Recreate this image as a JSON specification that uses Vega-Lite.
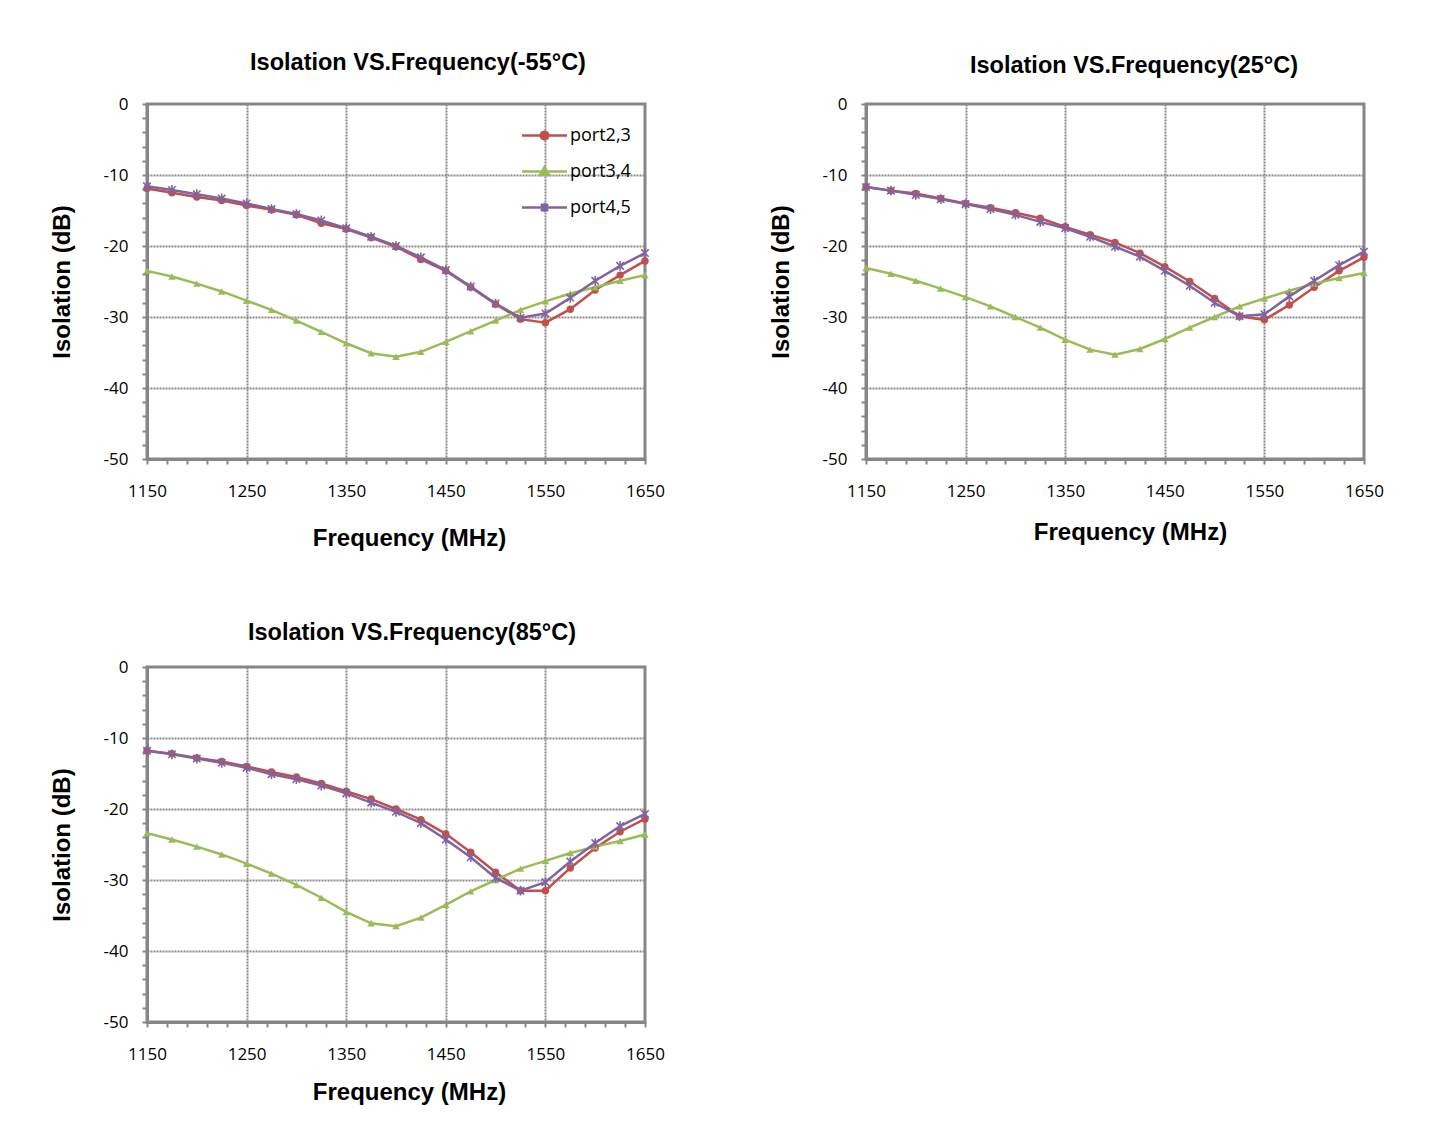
{
  "$schema": "https://vega.github.io/schema/vega-lite/v6.json",
  "background": "white",
  "padding": {"left": 48, "top": 49, "right": 5, "bottom": 5},
  "datasets": {
    "m55": [
      {"series":"port2,3","freq":1150,"db":-11.9},{"series":"port2,3","freq":1175,"db":-12.5},{"series":"port2,3","freq":1200,"db":-13.1},{"series":"port2,3","freq":1225,"db":-13.6},{"series":"port2,3","freq":1250,"db":-14.3},{"series":"port2,3","freq":1275,"db":-14.9},{"series":"port2,3","freq":1300,"db":-15.6},{"series":"port2,3","freq":1325,"db":-16.8},{"series":"port2,3","freq":1350,"db":-17.6},{"series":"port2,3","freq":1375,"db":-18.8},{"series":"port2,3","freq":1400,"db":-20.1},{"series":"port2,3","freq":1425,"db":-21.9},{"series":"port2,3","freq":1450,"db":-23.5},{"series":"port2,3","freq":1475,"db":-25.8},{"series":"port2,3","freq":1500,"db":-28.2},{"series":"port2,3","freq":1525,"db":-30.3},{"series":"port2,3","freq":1550,"db":-30.8},{"series":"port2,3","freq":1575,"db":-28.9},{"series":"port2,3","freq":1600,"db":-26.2},{"series":"port2,3","freq":1625,"db":-24.1},{"series":"port2,3","freq":1650,"db":-22.1},
      {"series":"port3,4","freq":1150,"db":-23.5},{"series":"port3,4","freq":1175,"db":-24.3},{"series":"port3,4","freq":1200,"db":-25.3},{"series":"port3,4","freq":1225,"db":-26.4},{"series":"port3,4","freq":1250,"db":-27.7},{"series":"port3,4","freq":1275,"db":-29.0},{"series":"port3,4","freq":1300,"db":-30.5},{"series":"port3,4","freq":1325,"db":-32.1},{"series":"port3,4","freq":1350,"db":-33.7},{"series":"port3,4","freq":1375,"db":-35.1},{"series":"port3,4","freq":1400,"db":-35.6},{"series":"port3,4","freq":1425,"db":-34.9},{"series":"port3,4","freq":1450,"db":-33.5},{"series":"port3,4","freq":1475,"db":-32.0},{"series":"port3,4","freq":1500,"db":-30.5},{"series":"port3,4","freq":1525,"db":-29.0},{"series":"port3,4","freq":1550,"db":-27.8},{"series":"port3,4","freq":1575,"db":-26.7},{"series":"port3,4","freq":1600,"db":-25.8},{"series":"port3,4","freq":1625,"db":-24.9},{"series":"port3,4","freq":1650,"db":-24.1},
      {"series":"port4,5","freq":1150,"db":-11.6},{"series":"port4,5","freq":1175,"db":-12.1},{"series":"port4,5","freq":1200,"db":-12.7},{"series":"port4,5","freq":1225,"db":-13.3},{"series":"port4,5","freq":1250,"db":-14.0},{"series":"port4,5","freq":1275,"db":-14.8},{"series":"port4,5","freq":1300,"db":-15.5},{"series":"port4,5","freq":1325,"db":-16.4},{"series":"port4,5","freq":1350,"db":-17.5},{"series":"port4,5","freq":1375,"db":-18.7},{"series":"port4,5","freq":1400,"db":-20.0},{"series":"port4,5","freq":1425,"db":-21.6},{"series":"port4,5","freq":1450,"db":-23.4},{"series":"port4,5","freq":1475,"db":-25.7},{"series":"port4,5","freq":1500,"db":-28.1},{"series":"port4,5","freq":1525,"db":-30.1},{"series":"port4,5","freq":1550,"db":-29.5},{"series":"port4,5","freq":1575,"db":-27.3},{"series":"port4,5","freq":1600,"db":-24.9},{"series":"port4,5","freq":1625,"db":-22.8},{"series":"port4,5","freq":1650,"db":-21.0}
    ],
    "p25": [
      {"series":"port2,3","freq":1150,"db":-11.7},{"series":"port2,3","freq":1175,"db":-12.2},{"series":"port2,3","freq":1200,"db":-12.6},{"series":"port2,3","freq":1225,"db":-13.3},{"series":"port2,3","freq":1250,"db":-14.0},{"series":"port2,3","freq":1275,"db":-14.6},{"series":"port2,3","freq":1300,"db":-15.3},{"series":"port2,3","freq":1325,"db":-16.1},{"series":"port2,3","freq":1350,"db":-17.3},{"series":"port2,3","freq":1375,"db":-18.4},{"series":"port2,3","freq":1400,"db":-19.5},{"series":"port2,3","freq":1425,"db":-21.0},{"series":"port2,3","freq":1450,"db":-22.9},{"series":"port2,3","freq":1475,"db":-25.0},{"series":"port2,3","freq":1500,"db":-27.4},{"series":"port2,3","freq":1525,"db":-29.9},{"series":"port2,3","freq":1550,"db":-30.4},{"series":"port2,3","freq":1575,"db":-28.3},{"series":"port2,3","freq":1600,"db":-25.8},{"series":"port2,3","freq":1625,"db":-23.5},{"series":"port2,3","freq":1650,"db":-21.6},
      {"series":"port3,4","freq":1150,"db":-23.1},{"series":"port3,4","freq":1175,"db":-23.9},{"series":"port3,4","freq":1200,"db":-24.9},{"series":"port3,4","freq":1225,"db":-26.0},{"series":"port3,4","freq":1250,"db":-27.2},{"series":"port3,4","freq":1275,"db":-28.5},{"series":"port3,4","freq":1300,"db":-30.0},{"series":"port3,4","freq":1325,"db":-31.5},{"series":"port3,4","freq":1350,"db":-33.2},{"series":"port3,4","freq":1375,"db":-34.6},{"series":"port3,4","freq":1400,"db":-35.3},{"series":"port3,4","freq":1425,"db":-34.5},{"series":"port3,4","freq":1450,"db":-33.1},{"series":"port3,4","freq":1475,"db":-31.5},{"series":"port3,4","freq":1500,"db":-30.0},{"series":"port3,4","freq":1525,"db":-28.5},{"series":"port3,4","freq":1550,"db":-27.4},{"series":"port3,4","freq":1575,"db":-26.3},{"series":"port3,4","freq":1600,"db":-25.3},{"series":"port3,4","freq":1625,"db":-24.5},{"series":"port3,4","freq":1650,"db":-23.8},
      {"series":"port4,5","freq":1150,"db":-11.7},{"series":"port4,5","freq":1175,"db":-12.2},{"series":"port4,5","freq":1200,"db":-12.8},{"series":"port4,5","freq":1225,"db":-13.4},{"series":"port4,5","freq":1250,"db":-14.1},{"series":"port4,5","freq":1275,"db":-14.8},{"series":"port4,5","freq":1300,"db":-15.6},{"series":"port4,5","freq":1325,"db":-16.6},{"series":"port4,5","freq":1350,"db":-17.5},{"series":"port4,5","freq":1375,"db":-18.7},{"series":"port4,5","freq":1400,"db":-20.1},{"series":"port4,5","freq":1425,"db":-21.5},{"series":"port4,5","freq":1450,"db":-23.5},{"series":"port4,5","freq":1475,"db":-25.6},{"series":"port4,5","freq":1500,"db":-28.0},{"series":"port4,5","freq":1525,"db":-29.9},{"series":"port4,5","freq":1550,"db":-29.6},{"series":"port4,5","freq":1575,"db":-27.1},{"series":"port4,5","freq":1600,"db":-24.9},{"series":"port4,5","freq":1625,"db":-22.7},{"series":"port4,5","freq":1650,"db":-20.8}
    ],
    "p85": [
      {"series":"port2,3","freq":1150,"db":-11.8},{"series":"port2,3","freq":1175,"db":-12.2},{"series":"port2,3","freq":1200,"db":-12.8},{"series":"port2,3","freq":1225,"db":-13.3},{"series":"port2,3","freq":1250,"db":-14.0},{"series":"port2,3","freq":1275,"db":-14.8},{"series":"port2,3","freq":1300,"db":-15.5},{"series":"port2,3","freq":1325,"db":-16.4},{"series":"port2,3","freq":1350,"db":-17.5},{"series":"port2,3","freq":1375,"db":-18.6},{"series":"port2,3","freq":1400,"db":-20.0},{"series":"port2,3","freq":1425,"db":-21.5},{"series":"port2,3","freq":1450,"db":-23.5},{"series":"port2,3","freq":1475,"db":-26.1},{"series":"port2,3","freq":1500,"db":-28.9},{"series":"port2,3","freq":1525,"db":-31.5},{"series":"port2,3","freq":1550,"db":-31.5},{"series":"port2,3","freq":1575,"db":-28.3},{"series":"port2,3","freq":1600,"db":-25.5},{"series":"port2,3","freq":1625,"db":-23.2},{"series":"port2,3","freq":1650,"db":-21.4},
      {"series":"port3,4","freq":1150,"db":-23.4},{"series":"port3,4","freq":1175,"db":-24.3},{"series":"port3,4","freq":1200,"db":-25.3},{"series":"port3,4","freq":1225,"db":-26.4},{"series":"port3,4","freq":1250,"db":-27.7},{"series":"port3,4","freq":1275,"db":-29.1},{"series":"port3,4","freq":1300,"db":-30.7},{"series":"port3,4","freq":1325,"db":-32.5},{"series":"port3,4","freq":1350,"db":-34.5},{"series":"port3,4","freq":1375,"db":-36.1},{"series":"port3,4","freq":1400,"db":-36.5},{"series":"port3,4","freq":1425,"db":-35.3},{"series":"port3,4","freq":1450,"db":-33.5},{"series":"port3,4","freq":1475,"db":-31.6},{"series":"port3,4","freq":1500,"db":-30.0},{"series":"port3,4","freq":1525,"db":-28.4},{"series":"port3,4","freq":1550,"db":-27.3},{"series":"port3,4","freq":1575,"db":-26.2},{"series":"port3,4","freq":1600,"db":-25.3},{"series":"port3,4","freq":1625,"db":-24.5},{"series":"port3,4","freq":1650,"db":-23.6},
      {"series":"port4,5","freq":1150,"db":-11.8},{"series":"port4,5","freq":1175,"db":-12.3},{"series":"port4,5","freq":1200,"db":-12.9},{"series":"port4,5","freq":1225,"db":-13.5},{"series":"port4,5","freq":1250,"db":-14.2},{"series":"port4,5","freq":1275,"db":-15.1},{"series":"port4,5","freq":1300,"db":-15.8},{"series":"port4,5","freq":1325,"db":-16.7},{"series":"port4,5","freq":1350,"db":-17.8},{"series":"port4,5","freq":1375,"db":-19.1},{"series":"port4,5","freq":1400,"db":-20.4},{"series":"port4,5","freq":1425,"db":-22.0},{"series":"port4,5","freq":1450,"db":-24.3},{"series":"port4,5","freq":1475,"db":-26.8},{"series":"port4,5","freq":1500,"db":-29.7},{"series":"port4,5","freq":1525,"db":-31.5},{"series":"port4,5","freq":1550,"db":-30.3},{"series":"port4,5","freq":1575,"db":-27.4},{"series":"port4,5","freq":1600,"db":-24.8},{"series":"port4,5","freq":1625,"db":-22.4},{"series":"port4,5","freq":1650,"db":-20.7}
    ]
  },
  "columns": 2,
  "spacing": {"row": 208, "column": 221},
  "bounds": "flush",
  "concat": [
    {
      "width": 498, "height": 355,
      "data": {"name": "m55"},
      "title": {"text": "Isolation VS.Frequency(-55°C)", "dx": 22, "offset": 21},
      "encoding": {
        "x": {"field": "freq", "type": "quantitative", "scale": {"domain": [1150, 1650], "nice": false, "zero": false},
          "axis": {"title": "Frequency (MHz)", "values": [1150,1170,1190,1210,1230,1250,1270,1290,1310,1330,1350,1370,1390,1410,1430,1450,1470,1490,1510,1530,1550,1570,1590,1610,1630,1650],
            "labelExpr": "(datum.value - 1150) % 100 === 0 ? '' + datum.value : ''",
            "gridOpacity": {"condition": {"test": "(datum.value - 1150) % 100 === 0 && datum.value > 1150 && datum.value < 1650", "value": 1}, "value": 0}, "titleX": 262, "titlePadding": 27}},
        "y": {"field": "db", "type": "quantitative", "scale": {"domain": [-50, 0], "nice": false},
          "axis": {"title": "Isolation (dB)", "values": [-50,-48,-46,-44,-42,-40,-38,-36,-34,-32,-30,-28,-26,-24,-22,-20,-18,-16,-14,-12,-10,-8,-6,-4,-2,0],
            "labelExpr": "datum.value % 10 === 0 ? '' + datum.value : ''",
            "gridOpacity": {"condition": {"test": "datum.value % 10 === 0 && datum.value > -50 && datum.value < 0", "value": 1}, "value": 0}}}
      },
      "layer": [
        {"mark": {"type": "line", "strokeWidth": 2.5},
         "encoding": {"color": {"field": "series", "type": "nominal",
           "scale": {"domain": ["port2,3", "port3,4", "port4,5"], "range": ["#C0504D", "#9BBB59", "#8064A2"]},
           "legend": {"title": null, "orient": "none", "legendX": 386, "legendY": 20, "padding": 0, "symbolSize": 400, "symbolStrokeWidth": 2.5, "rowPadding": 15, "labelOffset": 14, "labelFont": "Open Sans", "labelFontSize": 18, "labelColor": "#000",
             "encode": {"symbols": {"update": {
               "shape": {"signal": "datum.value === 'port2,3' ? 'M-2.25,0L2.25,0M-0.4,0L-0.28,-0.28L0,-0.4L0.28,-0.28L0.4,0L0.28,0.28L0,0.4L-0.28,0.28Z' : datum.value === 'port3,4' ? 'M-2.25,0L2.25,0M0,-0.45L0.45,0.35L-0.45,0.35Z' : 'M-2.25,0L2.25,0M-0.35,-0.35L0.35,0.35M-0.35,0.35L0.35,-0.35M0,-0.45L0,0.45'"},
               "fill": {"signal": "datum.value === 'port2,3' ? '#C0504D' : datum.value === 'port3,4' ? '#9BBB59' : '#8064A2'"},
               "stroke": {"signal": "datum.value === 'port2,3' ? '#C0504D' : datum.value === 'port3,4' ? '#9BBB59' : '#8064A2'"},
               "opacity": {"value": 1}, "fillOpacity": {"value": 1}, "strokeWidth": {"value": 2.5}}}}}}}},
        {"transform": [{"filter": "datum.series === 'port2,3'"}], "mark": {"type": "point", "shape": "circle", "filled": true, "size": 55, "color": "#C0504D", "opacity": 1}},
        {"transform": [{"filter": "datum.series === 'port3,4'"}], "mark": {"type": "point", "shape": "triangle-up", "filled": true, "size": 55, "color": "#9BBB59", "opacity": 1}},
        {"transform": [{"filter": "datum.series === 'port4,5'"}], "mark": {"type": "point", "shape": "M-1,-1L1,1M-1,1L1,-1M0,-1.3L0,1.3", "filled": false, "size": 55, "strokeWidth": 1.6, "color": "#8064A2", "opacity": 1}}
      ]
    },
    {
      "width": 498, "height": 355,
      "data": {"name": "p25"},
      "title": {"text": "Isolation VS.Frequency(25°C)", "dx": 19, "offset": 18},
      "encoding": {
        "x": {"field": "freq", "type": "quantitative", "scale": {"domain": [1150, 1650], "nice": false, "zero": false},
          "axis": {"title": "Frequency (MHz)", "values": [1150,1170,1190,1210,1230,1250,1270,1290,1310,1330,1350,1370,1390,1410,1430,1450,1470,1490,1510,1530,1550,1570,1590,1610,1630,1650],
            "labelExpr": "(datum.value - 1150) % 100 === 0 ? '' + datum.value : ''",
            "gridOpacity": {"condition": {"test": "(datum.value - 1150) % 100 === 0 && datum.value > 1150 && datum.value < 1650", "value": 1}, "value": 0}, "titleX": 264, "titlePadding": 21}},
        "y": {"field": "db", "type": "quantitative", "scale": {"domain": [-50, 0], "nice": false},
          "axis": {"title": "Isolation (dB)", "values": [-50,-48,-46,-44,-42,-40,-38,-36,-34,-32,-30,-28,-26,-24,-22,-20,-18,-16,-14,-12,-10,-8,-6,-4,-2,0],
            "labelExpr": "datum.value % 10 === 0 ? '' + datum.value : ''",
            "gridOpacity": {"condition": {"test": "datum.value % 10 === 0 && datum.value > -50 && datum.value < 0", "value": 1}, "value": 0}}}
      },
      "layer": [
        {"mark": {"type": "line", "strokeWidth": 2.5},
         "encoding": {"color": {"field": "series", "type": "nominal",
           "scale": {"domain": ["port2,3", "port3,4", "port4,5"], "range": ["#C0504D", "#9BBB59", "#8064A2"]},
           "legend": {"title": null, "orient": "none", "legendX": 386, "legendY": 20, "padding": 0, "symbolSize": 400, "symbolStrokeWidth": 2.5, "rowPadding": 15, "labelOffset": 14, "labelFont": "Open Sans", "labelFontSize": 18, "labelColor": "#000",
             "encode": {"symbols": {"update": {
               "shape": {"signal": "datum.value === 'port2,3' ? 'M-2.25,0L2.25,0M-0.4,0L-0.28,-0.28L0,-0.4L0.28,-0.28L0.4,0L0.28,0.28L0,0.4L-0.28,0.28Z' : datum.value === 'port3,4' ? 'M-2.25,0L2.25,0M0,-0.45L0.45,0.35L-0.45,0.35Z' : 'M-2.25,0L2.25,0M-0.35,-0.35L0.35,0.35M-0.35,0.35L0.35,-0.35M0,-0.45L0,0.45'"},
               "fill": {"signal": "datum.value === 'port2,3' ? '#C0504D' : datum.value === 'port3,4' ? '#9BBB59' : '#8064A2'"},
               "stroke": {"signal": "datum.value === 'port2,3' ? '#C0504D' : datum.value === 'port3,4' ? '#9BBB59' : '#8064A2'"},
               "opacity": {"value": 1}, "fillOpacity": {"value": 1}, "strokeWidth": {"value": 2.5}}}}}}}},
        {"transform": [{"filter": "datum.series === 'port2,3'"}], "mark": {"type": "point", "shape": "circle", "filled": true, "size": 55, "color": "#C0504D", "opacity": 1}},
        {"transform": [{"filter": "datum.series === 'port3,4'"}], "mark": {"type": "point", "shape": "triangle-up", "filled": true, "size": 55, "color": "#9BBB59", "opacity": 1}},
        {"transform": [{"filter": "datum.series === 'port4,5'"}], "mark": {"type": "point", "shape": "M-1,-1L1,1M-1,1L1,-1M0,-1.3L0,1.3", "filled": false, "size": 55, "strokeWidth": 1.6, "color": "#8064A2", "opacity": 1}}
      ]
    },
    {
      "width": 498, "height": 355,
      "data": {"name": "p85"},
      "title": {"text": "Isolation VS.Frequency(85°C)", "dx": 16, "offset": 14},
      "encoding": {
        "x": {"field": "freq", "type": "quantitative", "scale": {"domain": [1150, 1650], "nice": false, "zero": false},
          "axis": {"title": "Frequency (MHz)", "values": [1150,1170,1190,1210,1230,1250,1270,1290,1310,1330,1350,1370,1390,1410,1430,1450,1470,1490,1510,1530,1550,1570,1590,1610,1630,1650],
            "labelExpr": "(datum.value - 1150) % 100 === 0 ? '' + datum.value : ''",
            "gridOpacity": {"condition": {"test": "(datum.value - 1150) % 100 === 0 && datum.value > 1150 && datum.value < 1650", "value": 1}, "value": 0}, "titleX": 262, "titlePadding": 18}},
        "y": {"field": "db", "type": "quantitative", "scale": {"domain": [-50, 0], "nice": false},
          "axis": {"title": "Isolation (dB)", "values": [-50,-48,-46,-44,-42,-40,-38,-36,-34,-32,-30,-28,-26,-24,-22,-20,-18,-16,-14,-12,-10,-8,-6,-4,-2,0],
            "labelExpr": "datum.value % 10 === 0 ? '' + datum.value : ''",
            "gridOpacity": {"condition": {"test": "datum.value % 10 === 0 && datum.value > -50 && datum.value < 0", "value": 1}, "value": 0}}}
      },
      "layer": [
        {"mark": {"type": "line", "strokeWidth": 2.5},
         "encoding": {"color": {"field": "series", "type": "nominal",
           "scale": {"domain": ["port2,3", "port3,4", "port4,5"], "range": ["#C0504D", "#9BBB59", "#8064A2"]},
           "legend": {"title": null, "orient": "none", "legendX": 386, "legendY": 19, "padding": 0, "symbolSize": 400, "symbolStrokeWidth": 2.5, "rowPadding": 15, "labelOffset": 14, "labelFont": "Open Sans", "labelFontSize": 18, "labelColor": "#000",
             "encode": {"symbols": {"update": {
               "shape": {"signal": "datum.value === 'port2,3' ? 'M-2.25,0L2.25,0M-0.4,0L-0.28,-0.28L0,-0.4L0.28,-0.28L0.4,0L0.28,0.28L0,0.4L-0.28,0.28Z' : datum.value === 'port3,4' ? 'M-2.25,0L2.25,0M0,-0.45L0.45,0.35L-0.45,0.35Z' : 'M-2.25,0L2.25,0M-0.35,-0.35L0.35,0.35M-0.35,0.35L0.35,-0.35M0,-0.45L0,0.45'"},
               "fill": {"signal": "datum.value === 'port2,3' ? '#C0504D' : datum.value === 'port3,4' ? '#9BBB59' : '#8064A2'"},
               "stroke": {"signal": "datum.value === 'port2,3' ? '#C0504D' : datum.value === 'port3,4' ? '#9BBB59' : '#8064A2'"},
               "opacity": {"value": 1}, "fillOpacity": {"value": 1}, "strokeWidth": {"value": 2.5}}}}}}}},
        {"transform": [{"filter": "datum.series === 'port2,3'"}], "mark": {"type": "point", "shape": "circle", "filled": true, "size": 55, "color": "#C0504D", "opacity": 1}},
        {"transform": [{"filter": "datum.series === 'port3,4'"}], "mark": {"type": "point", "shape": "triangle-up", "filled": true, "size": 55, "color": "#9BBB59", "opacity": 1}},
        {"transform": [{"filter": "datum.series === 'port4,5'"}], "mark": {"type": "point", "shape": "M-1,-1L1,1M-1,1L1,-1M0,-1.3L0,1.3", "filled": false, "size": 55, "strokeWidth": 1.6, "color": "#8064A2", "opacity": 1}}
      ]
    }
  ],
  "config": {
    "view": {"stroke": "#868686", "strokeWidth": 3},
    "axis": {"domainColor": "#868686", "domainWidth": 3, "tickColor": "#868686", "tickWidth": 2, "tickSize": 5,
      "gridColor": "#8a8a8a", "gridWidth": 2, "gridDash": [2, 1], "labelFlush": false,
      "labelFont": "Open Sans", "labelFontSize": 17, "labelColor": "#000",
      "titleFont": "Liberation Sans", "titleFontSize": 24, "titleFontWeight": "bold", "titleColor": "#000"},
    "axisY": {"labelPadding": 14, "titlePadding": 29},
    "axisX": {"labelPadding": 19},
    "title": {"font": "Liberation Sans", "fontSize": 23.5, "fontWeight": "bold", "color": "#000"}
  }
}
